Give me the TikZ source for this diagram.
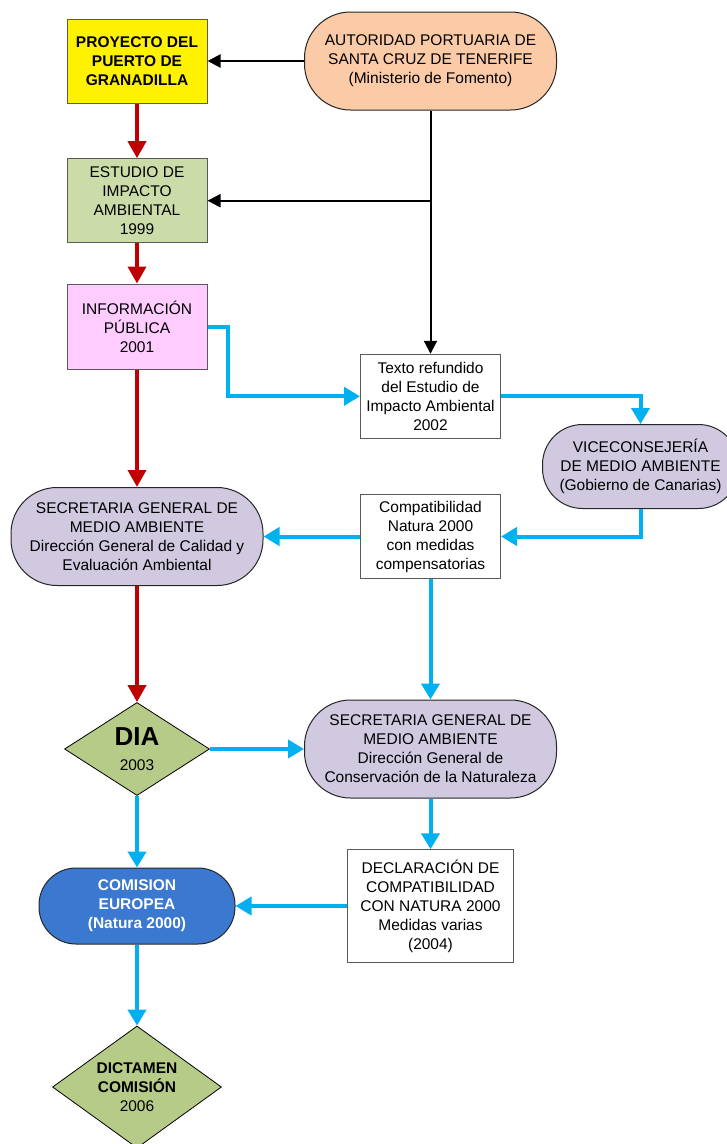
\documentclass[tikz,border=0pt]{standalone}
\usepackage{fontspec}
\setmainfont{Liberation Sans}
\usetikzlibrary{arrows.meta,shapes.geometric}
\definecolor{peach}{HTML}{FACBA6}
\definecolor{estgreen}{HTML}{CCDCA9}
\definecolor{pinkbox}{HTML}{FFCCFF}
\definecolor{lav}{HTML}{D1C9DF}
\definecolor{diagreen}{HTML}{B7CB88}
\definecolor{comblue}{HTML}{3B78D0}
\definecolor{bline}{HTML}{00B0F0}
\definecolor{rline}{HTML}{C00000}
\definecolor{bordergray}{HTML}{5A5A5A}
\newcommand\fsz{\fontsize{15.5}{19}\selectfont}
\tikzset{
  every node/.style={inner sep=0pt, align=center, font=\fsz},
  rbox/.style={rectangle, draw=bordergray, line width=1pt},
  term/.style={rectangle, rounded corners=46pt, draw=black!85, line width=1pt, minimum width=252pt, minimum height=98pt},
  dia/.style={diamond, draw=black, line width=0.8pt, fill=diagreen},
  blkarrow/.style={draw=black, line width=2pt, -{Triangle[length=13pt,width=13pt]}},
  redarrow/.style={draw=rline, line width=3.7pt, -{Triangle[length=17pt,width=18pt]}},
  bluearrow/.style={draw=bline, line width=4pt, line join=miter, -{Triangle[length=16pt,width=18pt]}},
}
\begin{document}
\begin{tikzpicture}[x=1pt,y=-1pt]
\clip (0,0) rectangle (727,1144);
\fill[white] (0,0) rectangle (727,1144);

\node[rbox, fill=yellow, minimum width=140pt, minimum height=84pt, font=\fsz\bfseries] (proy) at (137,61) {PROYECTO DEL\\PUERTO DE\\GRANADILLA};
\node[term, fill=peach] (auto) at (430.5,61) {AUTORIDAD PORTUARIA DE\\SANTA CRUZ DE TENERIFE\\(Ministerio de Fomento)};
\node[rbox, fill=estgreen, minimum width=140pt, minimum height=84pt] (estudio) at (137,200.7) {ESTUDIO DE\\IMPACTO\\AMBIENTAL\\1999};
\node[rbox, fill=pinkbox, minimum width=140pt, minimum height=85pt] (info) at (137,326.5) {INFORMACIÓN\\PÚBLICA\\2001};
\node[rbox, fill=white, minimum width=140pt, minimum height=84pt] (texto) at (430.5,396.3) {Texto refundido\\del Estudio de\\Impacto Ambiental\\2002};
\node[term, fill=lav, minimum width=196pt, minimum height=84pt, rounded corners=40pt] (vice) at (640.5,466.5) {VICECONSEJERÍA\\DE MEDIO AMBIENTE\\(Gobierno de Canarias)};
\node[rbox, fill=white, minimum width=140pt, minimum height=84pt] (compat) at (430.5,536.5) {Compatibilidad\\Natura 2000\\con medidas\\compensatorias};
\node[term, fill=lav] (sec1) at (137,536.5) {SECRETARIA GENERAL DE\\MEDIO AMBIENTE\\Dirección General de Calidad y\\Evaluación Ambiental};
\node[dia, aspect=1.56, minimum width=145pt, minimum height=93pt, font=\fontsize{15.5}{25}\selectfont] (dia) at (137,749) {{\fontsize{26}{25}\selectfont\bfseries DIA}\\2003};
\node[term, fill=lav] (sec2) at (430.5,749) {SECRETARIA GENERAL DE\\MEDIO AMBIENTE\\Dirección General de\\Conservación de la Naturaleza};
\node[rbox, fill=white, minimum width=165.5pt, minimum height=112.5pt] (decl) at (430.5,906) {DECLARACIÓN DE\\COMPATIBILIDAD\\CON NATURA 2000\\Medidas varias\\(2004)};
\node[term, fill=comblue, minimum width=196pt, minimum height=76pt, rounded corners=37pt, text=white, font=\fsz\bfseries] (com) at (137,906) {COMISION\\EUROPEA\\(Natura 2000)};
\node[dia, aspect=1.385, minimum width=169pt, minimum height=122pt] (dict) at (137,1087) {\textbf{DICTAMEN}\\\textbf{COMISIÓN}\\2006};

% black connectors
\coordinate (j1) at (auto.south |- estudio.east);
\draw[blkarrow] (auto.west) -- (proy.east);
\draw[blkarrow] (auto.south) -- (texto.north);
\draw[blkarrow] (j1) -- (estudio.east);

% red connectors
\draw[redarrow] (proy.south) -- (estudio.north);
\draw[redarrow] (estudio.south) -- (info.north);
\draw[redarrow] (info.south) -- (sec1.north);
\draw[redarrow] (sec1.south) -- (dia.north);

% blue connectors
\draw[bluearrow] (info.east) -- ++(20,0) |- (texto.west);
\draw[bluearrow] (texto.east) -| (vice.north);
\draw[bluearrow] (vice.south) |- (compat.east);
\draw[bluearrow] (compat.west) -- (sec1.east);
\draw[bluearrow] (compat.south) -- (sec2.north);
\draw[bluearrow] (dia.east) -- (sec2.west);
\draw[bluearrow] (sec2.south) -- (decl.north);
\draw[bluearrow] (dia.south) -- (com.north);
\draw[bluearrow] (decl.west) -- (com.east);
\draw[bluearrow] (com.south) -- (dict.north);
\end{tikzpicture}
\end{document}
